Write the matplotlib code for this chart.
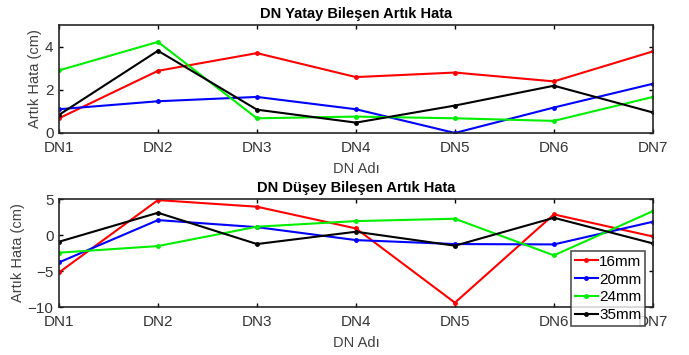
import matplotlib
matplotlib.use('Agg')
import matplotlib.pyplot as plt

plt.rcParams['font.family'] = ['Liberation Sans', 'DejaVu Sans']

names = ['DN1', 'DN2', 'DN3', 'DN4', 'DN5', 'DN6', 'DN7']
series = ['16mm', '20mm', '24mm', '35mm']
colors = ['#ff0000', '#0000ff', '#00ee00', '#000000']

yatay_16 = [0.68, 2.88, 3.7, 2.59, 2.8, 2.39, 3.78]
yatay_20 = [1.1, 1.47, 1.67, 1.1, 0.0, 1.18, 2.28]
yatay_24 = [2.9, 4.22, 0.68, 0.76, 0.68, 0.56, 1.67]
yatay_35 = [0.84, 3.81, 1.08, 0.48, 1.27, 2.19, 0.95]

dusey_16 = [-5.2, 4.86, 3.94, 0.92, -9.4, 2.87, -0.2]
dusey_20 = [-3.8, 2.08, 1.1, -0.7, -1.25, -1.3, 1.85]
dusey_24 = [-2.45, -1.53, 1.16, 1.94, 2.27, -2.82, 3.33]
dusey_35 = [-0.93, 3.1, -1.25, 0.46, -1.48, 2.4, -1.16]

fig = plt.figure(figsize=(6.89, 3.55), dpi=100)
ax1 = fig.add_axes([0.0856, 0.6254, 0.862, 0.304])
ax2 = fig.add_axes([0.0856, 0.1352, 0.862, 0.304])

x = range(len(names))
for ax, data, title, ylim, yticks in [
    (ax1, [yatay_16, yatay_20, yatay_24, yatay_35], 'DN Yatay Bileşen Artık Hata', (0, 5), [0, 2, 4]),
    (ax2, [dusey_16, dusey_20, dusey_24, dusey_35], 'DN Düşey Bileşen Artık Hata', (-10, 5), [-10, -5, 0, 5]),
]:
    for vals, c, lab in zip(data, colors, series):
        ax.plot(x, vals, color=c, lw=1.5, marker='.', ms=5, label=lab)
    ax.set_xlim(0, 6)
    ax.set_ylim(*ylim)
    ax.set_yticks(yticks)
    ax.set_xticks(list(x))
    ax.set_xticklabels(names)
    ax.set_title(title, fontsize=10.5, fontweight='bold', pad=5)
    ax.set_xlabel('DN Adı', fontsize=10.5, color='#404040', labelpad=5)
    ax.set_ylabel('Artık Hata (cm)', fontsize=10.5, color='#404040', labelpad=2)
    ax.tick_params(direction='in', top=True, right=True, labelsize=11,
                   labelcolor='#333333', length=3, width=1)
    ax.tick_params(axis='x', pad=6)
    ax.tick_params(axis='y', pad=4)
    for s in ax.spines.values():
        s.set_linewidth(1.2)
        s.set_color('#262626')

leg = ax2.legend(loc='upper left', bbox_to_anchor=(571 / 689, 1 - 251 / 355),
                 bbox_transform=fig.transFigure, fontsize=11, frameon=True,
                 fancybox=False, edgecolor='#262626', handlelength=1.5,
                 handletextpad=0.1, borderpad=0.25, labelspacing=0.25,
                 borderaxespad=0)
leg.get_frame().set_linewidth(1.2)

fig.savefig('out.png', dpi=100)
